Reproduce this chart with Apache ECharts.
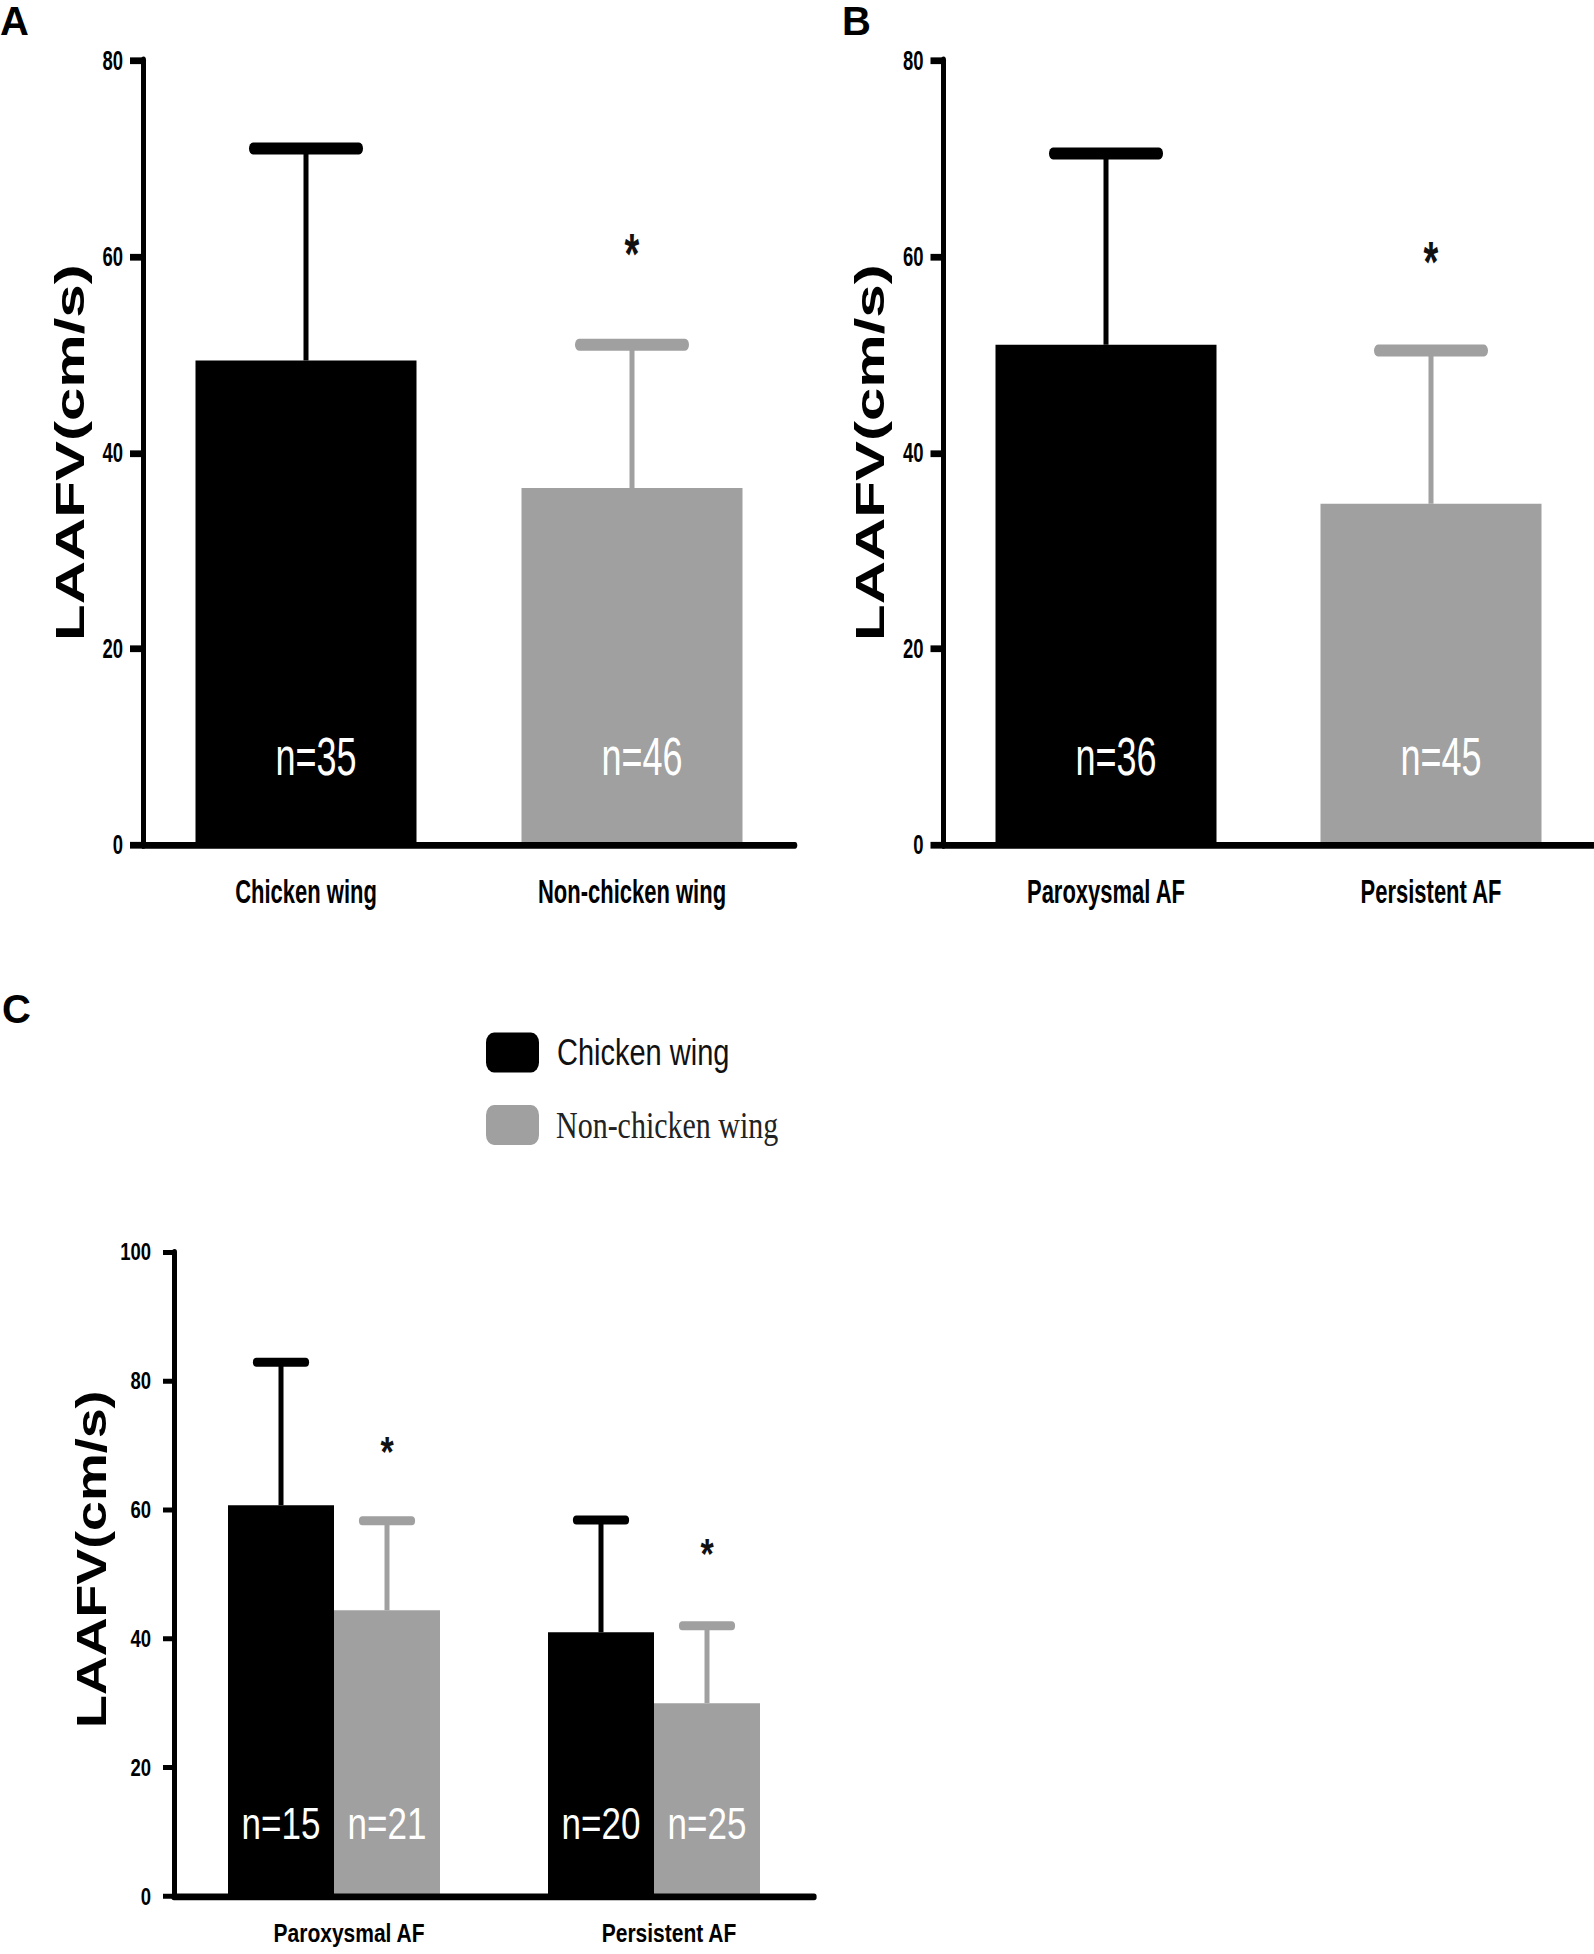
<!DOCTYPE html>
<html>
<head>
<meta charset="utf-8">
<script src="https://cdn.jsdelivr.net/npm/echarts@6/dist/echarts.min.js"></script>
<style>
  html, body { margin: 0; padding: 0; background: #fff; overflow: hidden; }
  #page { position: relative; width: 1594px; height: 1954px; }
  /* the source figure is stretched vertically, so each plot area is drawn and then scaled in y */
  #top { position: absolute; left: 0; top: 0; width: 1594px; height: 653.33px; transform: scaleY(1.5); transform-origin: 0 0; }
  #bottom { position: absolute; left: 0; top: 980px; width: 1594px; height: 779.2px; transform: scaleY(1.25); transform-origin: 0 0; }
  #letters { position: absolute; left: 0; top: 0; width: 1594px; height: 1954px; pointer-events: none; }
</style>
</head>
<body>
<div id="page">
  <div id="top"></div>
  <div id="bottom"></div>
  <div id="letters"></div>
</div>
<script>
// ---- data (LAAFV, mean and SD in cm/s) ----
const catsA = ['Chicken wing', 'Non-chicken wing']
const meanA = [49.4, 36.4]
const sdA = [21.6, 14.6]
const nA = [35, 46]
const starA = [null, 61]

const catsB = ['Paroxysmal AF', 'Persistent AF']
const meanB = [51.0, 34.8]
const sdB = [19.5, 15.6]
const nB = [36, 45]
const starB = [null, 60.2]

const catsC = ['Paroxysmal AF', 'Persistent AF']
const meanCW = [60.7, 41.0]
const sdCW = [22.2, 17.4]
const nCW = [15, 20]
const starCW = [null, null]
const meanNCW = [44.4, 30.0]
const sdNCW = [13.9, 12.0]
const nNCW = [21, 25]
const starNCW = [70.3, 54.4]

const yTicksAB = [0, 20, 40, 60, 80]
const yTicksC = [0, 20, 40, 60, 80, 100]
const panelLetters = ['A', 'B', 'C']

// ---- styles ----
const BLACK = '#000'
const GRAY = '#a0a0a0'
const SANS = "'Liberation Sans', Arial, sans-serif"
const SERIF = "'Liberation Serif', 'DejaVu Serif', serif"

// error bar (mean + SD) with optional asterisk
function errorBars(o) {
  return function (params, api) {
    const i = params.dataIndex
    const cat = api.value(0)
    const lo = api.coord([cat, api.value(1)])
    const hi = api.coord([cat, api.value(1) + api.value(2)])
    const x = lo[0] + o.offset
    const color = o.color(i)
    const kids = [
      { type: 'line', shape: { x1: x, y1: lo[1], x2: x, y2: hi[1] }, style: { stroke: color, lineWidth: o.stem } },
      { type: 'line', shape: { x1: x - o.cap, y1: hi[1], x2: x + o.cap, y2: hi[1] }, style: { stroke: color, lineWidth: o.capW, lineCap: 'round' } }
    ]
    const s = o.stars[i]
    if (s != null) {
      kids.push({
        type: 'text', x: x, y: api.coord([cat, s])[1] + o.starShift,
        style: { text: '*', fontSize: o.starSize, fontFamily: SANS, fontWeight: 'bold', fill: '#111', align: 'center', verticalAlign: 'middle' }
      })
    }
    return { type: 'group', children: kids }
  }
}

function yAxisOf(grid, ticks, o) {
  return {
    gridIndex: grid, type: 'value',
    min: ticks[0], max: ticks[ticks.length - 1], interval: ticks[1] - ticks[0],
    axisLine: { show: true, lineStyle: { color: BLACK, width: o.lineW } },
    axisTick: { show: true, length: o.tickLen, lineStyle: { color: BLACK, width: o.tickW } },
    axisLabel: { margin: o.labelMargin, color: BLACK, fontFamily: SANS, fontWeight: 'bold', fontSize: o.labelSize },
    splitLine: { show: false },
    name: 'LAAFV(cm/s)', nameLocation: 'middle', nameGap: o.nameGap,
    nameTextStyle: { color: BLACK, fontFamily: SANS, fontWeight: 'bold', fontSize: o.nameSize, padding: o.namePad || 0 }
  }
}

function xAxisOf(grid, cats, o) {
  return {
    gridIndex: grid, type: 'category', data: cats, z: 3,
    axisLine: { lineStyle: { color: BLACK, width: o.lineW } },
    axisTick: { alignWithLabel: true, length: o.tickLen, lineStyle: { color: BLACK, width: o.tickW } },
    axisLabel: {
      margin: o.labelMargin, color: BLACK, fontFamily: SANS, fontWeight: 'bold',
      fontSize: o.labelSize, lineHeight: o.labelSize, padding: o.labelPad || 0
    }
  }
}

function nLabel(size, dist, dx) {
  return {
    show: true, position: 'insideBottom', distance: dist, offset: [dx, 0],
    color: '#fff', fontFamily: SANS, fontSize: size, lineHeight: size,
    formatter: p => 'n=' + p.data.n
  }
}

// ---- panels A and B ----
const topChart = echarts.init(document.getElementById('top'), null, { renderer: 'svg' })
const axAB = { lineW: 5, tickLen: 13, tickW: 4.5, labelMargin: 20, labelSize: 18.5, nameGap: 53, nameSize: 40 }
const xAB = { lineW: 4.5, tickLen: 18, tickW: 4.5, labelMargin: 20, labelSize: 22 }
const colorsAB = [BLACK, GRAY]

function panelSeries(idx, means, sds, ns, stars) {
  return [
    {
      type: 'bar', xAxisIndex: idx, yAxisIndex: idx, barWidth: 221, z: 2,
      data: means.map((v, i) => ({ value: v, n: ns[i], itemStyle: { color: colorsAB[i] } })),
      label: nLabel(36, 41, 10)
    },
    {
      type: 'custom', xAxisIndex: idx, yAxisIndex: idx, z: 4,
      renderItem: errorBars({ offset: 0, cap: 53, capW: 8, stem: 5, color: i => colorsAB[i], stars: stars, starSize: 38, starShift: 5 }),
      data: means.map((v, i) => [i, v, sds[i]])
    }
  ]
}

topChart.setOption({
  animation: false,
  grid: [
    { left: 143, top: 40.2, width: 652, height: 523.1, outerBoundsMode: 'none' },
    { left: 943.5, top: 40.2, width: 650, height: 523.1, outerBoundsMode: 'none' }
  ],
  xAxis: [xAxisOf(0, catsA, xAB), xAxisOf(1, catsB, xAB)],
  yAxis: [yAxisOf(0, yTicksAB, axAB), yAxisOf(1, yTicksAB, axAB)],
  series: [].concat(
    panelSeries(0, meanA, sdA, nA, starA),
    panelSeries(1, meanB, sdB, nB, starB)
  )
})

// ---- panel C ----
const bottomChart = echarts.init(document.getElementById('bottom'), null, { renderer: 'svg' })
const axC = { lineW: 5, tickLen: 11, tickW: 4, labelMargin: 23, labelSize: 18.5, nameGap: 62, nameSize: 43, namePad: [0, 0, 0, 24] }
const xC = { lineW: 5.3, tickLen: 16.4, tickW: 4.5, labelMargin: 18, labelSize: 21, labelPad: [0, 0, 0, 30] }
const halfBar = 53

bottomChart.setOption({
  animation: false,
  legend: {
    data: ['Chicken wing', 'Non-chicken wing'],
    orient: 'vertical', left: 486, top: 42, padding: 0,
    itemWidth: 53, itemHeight: 32, itemGap: 26, icon: 'roundRect', selectedMode: false,
    formatter: name => (name === 'Chicken wing' ? '{a|' : '{b|') + name + '}',
    textStyle: {
      rich: {
        a: { fontFamily: SANS, fontSize: 29, lineHeight: 30, color: '#111', padding: [0, 0, 0, 13] },
        b: { fontFamily: SERIF, fontSize: 30, lineHeight: 30, color: '#222', padding: [0, 0, 0, 12] }
      }
    }
  },
  grid: { left: 174, top: 217.6, width: 640, height: 515.6, outerBoundsMode: 'none' },
  xAxis: xAxisOf(0, catsC, xC),
  yAxis: yAxisOf(0, yTicksC, axC),
  series: [
    {
      name: 'Chicken wing', type: 'bar', barWidth: halfBar * 2, barGap: '0%', z: 2,
      itemStyle: { color: BLACK },
      data: meanCW.map((v, i) => ({ value: v, n: nCW[i] })),
      label: nLabel(35, 40.5, 0)
    },
    {
      name: 'Non-chicken wing', type: 'bar', barWidth: halfBar * 2, barGap: '0%', z: 2,
      itemStyle: { color: GRAY },
      data: meanNCW.map((v, i) => ({ value: v, n: nNCW[i] })),
      label: nLabel(35, 40.5, 0)
    },
    {
      type: 'custom', z: 4,
      renderItem: errorBars({ offset: -halfBar, cap: 24.5, capW: 7.2, stem: 5, color: () => BLACK, stars: starCW, starSize: 34, starShift: 6 }),
      data: meanCW.map((v, i) => [i, v, sdCW[i]])
    },
    {
      type: 'custom', z: 4,
      renderItem: errorBars({ offset: halfBar, cap: 24.5, capW: 7.2, stem: 5, color: () => GRAY, stars: starNCW, starSize: 34, starShift: 6 }),
      data: meanNCW.map((v, i) => [i, v, sdNCW[i]])
    }
  ]
})

// ---- panel letters (not stretched) ----
const letterChart = echarts.init(document.getElementById('letters'), null, { renderer: 'svg' })
const letterPos = [[0, 1], [842, 1], [2, 989]]
letterChart.setOption({
  animation: false,
  title: panelLetters.map((t, i) => ({
    text: t, left: letterPos[i][0], top: letterPos[i][1], padding: 0,
    textStyle: { fontFamily: SANS, fontWeight: 'bold', fontSize: 40, color: BLACK }
  }))
})

window.addEventListener('resize', () => {
  topChart.resize()
  bottomChart.resize()
  letterChart.resize()
})
</script>
</body>
</html>
